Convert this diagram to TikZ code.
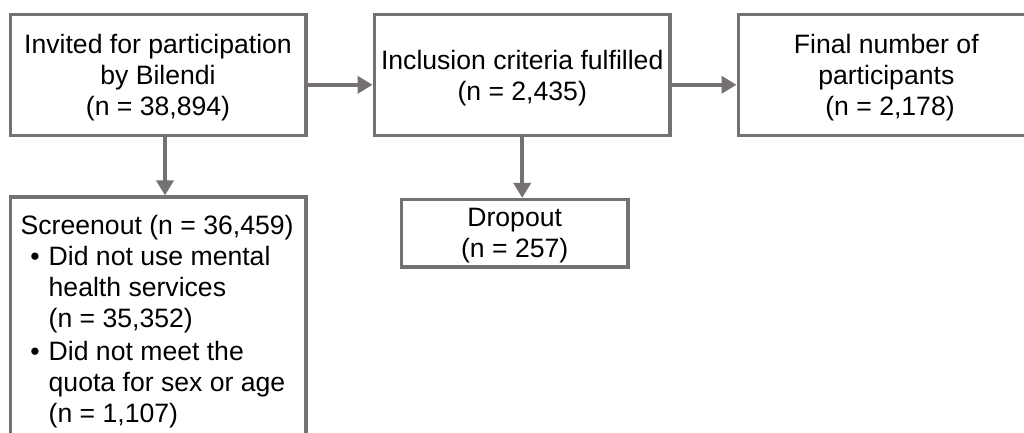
\documentclass[tikz,border=0pt]{standalone}
\usepackage{fontspec}
\setmainfont{Liberation Sans}
\usetikzlibrary{arrows.meta}
\definecolor{frame}{RGB}{118,113,113}
\newcommand{\nodepth}[1]{\raisebox{0pt}[\height][0pt]{#1}}
\tikzset{
  box/.style={draw=frame, line width=3.6pt, rectangle, inner sep=0pt, align=center,
    font=\fontsize{26.6}{31}\selectfont},
  arr/.style={draw=frame, line width=4.4pt, -{Triangle[length=15pt,width=17pt]}},
}
\begin{document}
\begin{tikzpicture}[x=1pt,y=-1pt]
\useasboundingbox (0,0) rectangle (1024,433);
\clip (0,0) rectangle (1024,433);
\fill[white] (0,0) rectangle (1024,433);
% main boxes
\node[box, minimum width=295.4pt, minimum height=120.6pt] (b1) at (158,75)
  {Invited for participation\\by Bilendi\\\nodepth{(n = 38,894)}};
\node[box, minimum width=295.7pt, minimum height=120.6pt] (b2) at (522.2,75)
  {Inclusion criteria fulfilled\\\nodepth{(n = 2,435)}};
\node[box, minimum width=296pt, minimum height=120.6pt] (b3) at (886.3,75)
  {Final number of\\participants\\\nodepth{~(n = 2,178)}};
\node[box, minimum width=226.1pt, minimum height=67.3pt] (drop) at (514.7,233.3)
  {Dropout\\\nodepth{(n = 257)}};
\node[box, minimum width=295.4pt, minimum height=272.8pt] (so) at (158,333.6) {};
\node[anchor=base west, inner sep=0pt, font=\fontsize{26.6}{31}\selectfont] (sotext) at (20.5,234.3)
  {\parbox[t]{290pt}{\raggedright
  Screenout (n = 36,459)\\
  \makebox[26pt][r]{•\hspace{7pt}}\hspace*{2pt}Did not use mental\\
  \hspace*{28pt}health services\\
  \hspace*{28pt}(n = 35,352)\\[2pt]
  \makebox[26pt][r]{•\hspace{7pt}}\hspace*{2pt}Did not meet the\\
  \hspace*{28pt}quota for sex or age\\
  \hspace*{28pt}(n = 1,107)}};
% connectors
\draw[arr] ([yshift=-9.8pt]b1.east) -- ([yshift=-9.8pt]b1.east -| b2.west);
\draw[arr] ([yshift=-9.8pt]b2.east) -- ([yshift=-9.8pt]b2.east -| b3.west);
\draw[arr] ([xshift=7pt]b1.south) -- ([xshift=7pt]b1.south |- so.north);
\draw[arr] (b2.south) -- (b2.south |- drop.north);
\end{tikzpicture}
\end{document}
